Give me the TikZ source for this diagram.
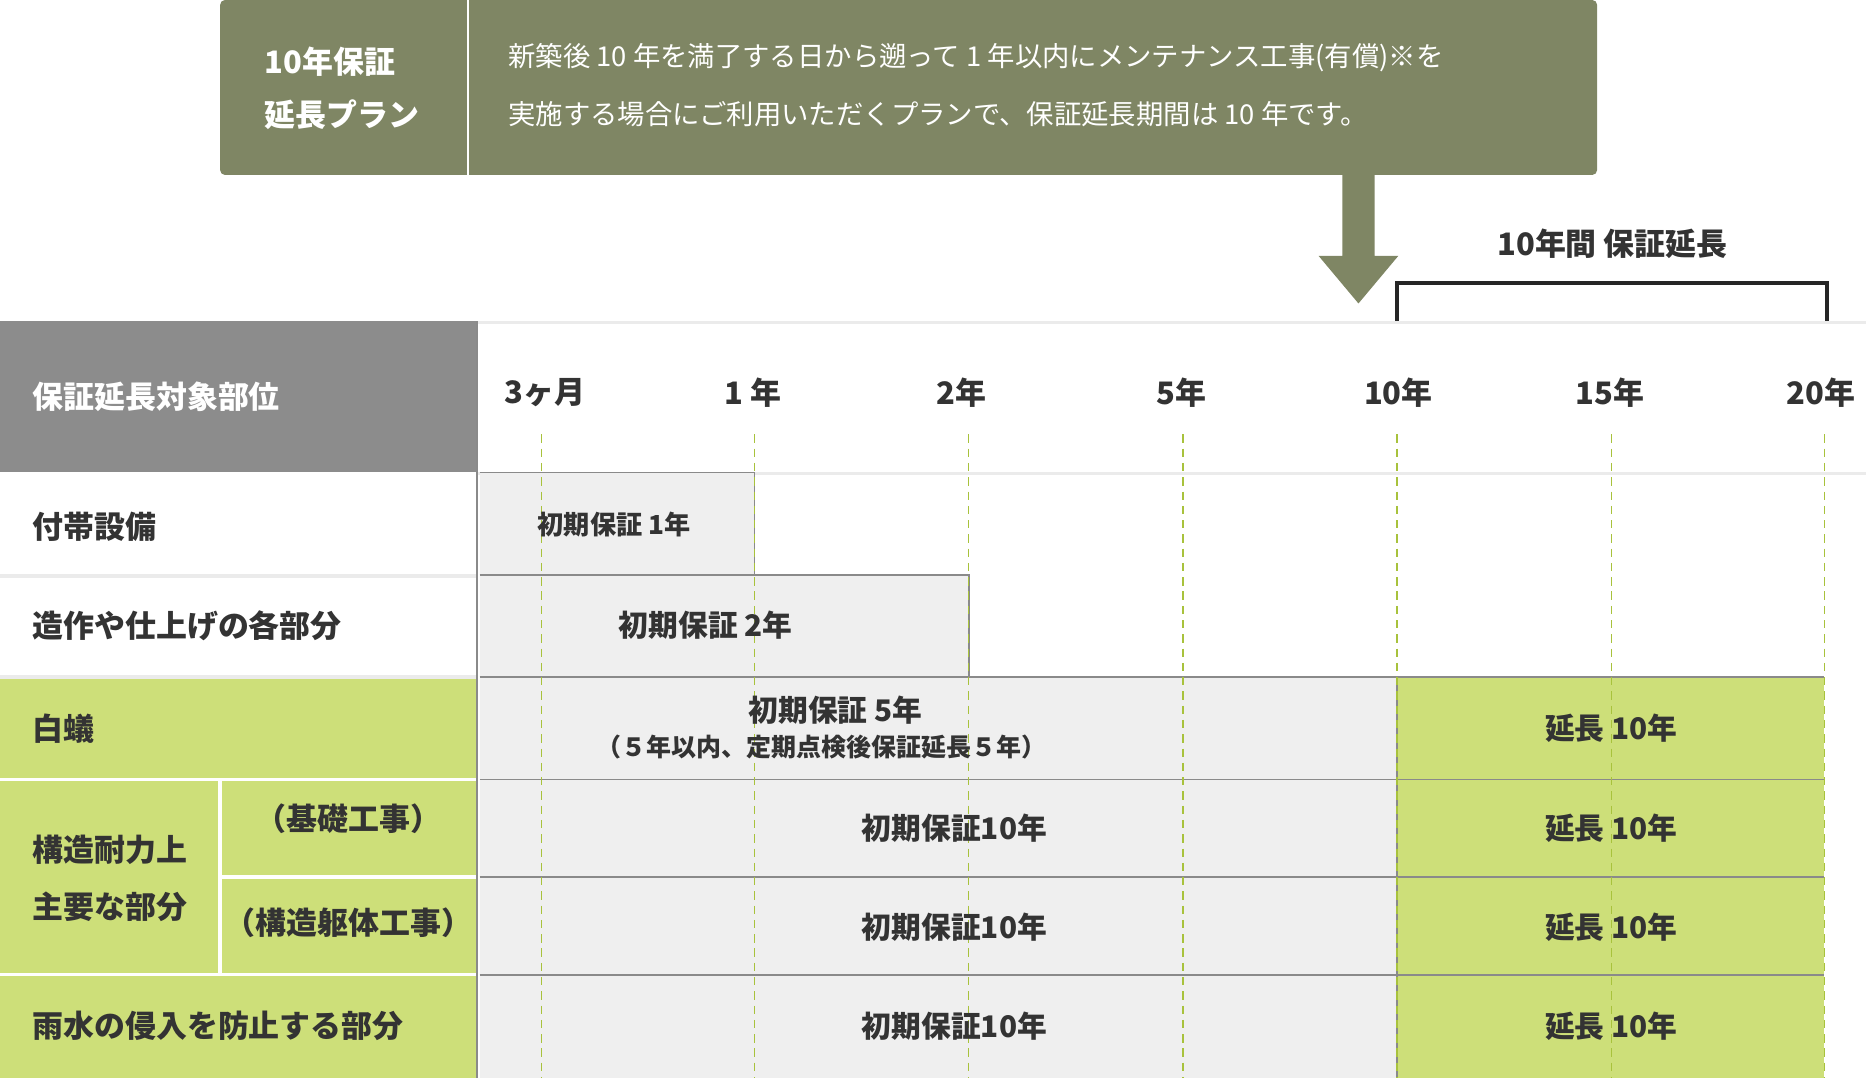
\documentclass[tikz,border=0pt]{standalone}
\usepackage{fontspec}
\setmainfont{Noto Sans CJK JP}
\definecolor{olive}{HTML}{7F8664}
\definecolor{grn}{HTML}{CDDF79}
\definecolor{hdr}{HTML}{8C8C8C}
\definecolor{bar}{HTML}{EFEFEF}
\definecolor{dsh}{HTML}{A8C23C}
\definecolor{lin}{HTML}{8A8A8A}
\definecolor{txt}{HTML}{333333}
\tikzset{
  lbl/.style={font=\fontsize{26}{30}\selectfont\bfseries, text=txt, inner sep=0pt},
  barlbl/.style={font=\fontsize{25}{30}\selectfont\bfseries, text=txt, inner sep=0pt},
  wlbl/.style={font=\fontsize{26}{30}\selectfont\bfseries, text=white, inner sep=0pt, anchor=west},
  desc/.style={font=\fontsize{23}{28}\selectfont, text=white, inner sep=0pt, anchor=west},
  rowline/.style={draw=lin, line width=1.5pt},
  leftline/.style={draw=white, line width=3pt},
}
\begin{document}
\begin{tikzpicture}[x=1pt,y=-1pt]
\useasboundingbox (0,0) rectangle (1568,906);
% top box
\fill[olive, rounded corners=4pt] (185,0) rectangle (1342,147);
\draw[white, line width=1.5pt] (393,0) -- (393,147);
\node[wlbl] (t1) at (222,52) {10年保証};
\node[wlbl] (t2) at (222,96) {延長プラン};
\node[desc] (d1) at (427,48) {新築後 10 年を満了する日から遡って 1 年以内にメンテナンス工事(有償)※を};
\node[desc] (d2) at (427,96) {実施する場合にご利用いただくプランで、保証延長期間は 10 年です。};
% arrow
\fill[olive] (1128,147) -- (1155,147) -- (1155,215) -- (1175,215) -- (1141.5,255) -- (1108,215) -- (1128,215) -- cycle;
% bracket
\node[lbl] (br) at (1355,205) {10年間 保証延長};
\draw[black!85, line width=3.5pt] (1174,270) -- (1174,238) -- (1535,238) -- (1535,270);
% header
\fill[hdr] (0,270) rectangle (401,397);
\node[wlbl] (h) at (27,333) {保証延長対象部位};
\draw[black!8, line width=2pt] (401,271) -- (1568,271);
\draw[black!8, line width=3pt] (401,398) -- (1568,398);
\foreach \x/\t in {458/3ヶ月,633/1 年,808/2年,993/5年,1175/10年,1353/15年,1530/20年}
  \node[lbl] at (\x,330) {\t};
% left cells
\fill[white] (0,397) rectangle (401,569);
\fill[grn] (0,569) rectangle (401,906);
\draw[black!8, line width=3pt] (0,484) -- (401,484);
\draw[black!8, line width=3pt] (0,569) -- (401,569);
\draw[leftline] (0,655) -- (401,655);
\draw[leftline] (0,819) -- (401,819);
\draw[leftline] (185,737) -- (401,737);
\draw[leftline] (185,655) -- (185,819);
\draw[lin, line width=1.5pt] (401,270) -- (401,906);
\node[lbl, anchor=west] at (27,443) {付帯設備};
\node[lbl, anchor=west] at (27,526) {造作や仕上げの各部分};
\node[lbl, anchor=west] at (27,612) {白蟻};
\node[lbl, anchor=west] at (27,714) {構造耐力上};
\node[lbl, anchor=west] at (27,762) {主要な部分};
\node[lbl] at (293,688) {（基礎工事）};
\node[lbl] at (293,775) {（構造躯体工事）};
\node[lbl, anchor=west] at (27,862) {雨水の侵入を防止する部分};
% bars
\fill[bar] (403,397) rectangle (634,483);
\fill[bar] (403,483) rectangle (814,569);
\fill[bar] (403,569) rectangle (1174,906);
\fill[grn] (1174,569) rectangle (1533,906);
\draw[rowline] (403,397) -- (634,397) -- (634,483);
\draw[rowline] (403,483) -- (814,483) -- (814,569);
\draw[rowline] (403,569) -- (1533,569);
\draw[rowline] (403,655) -- (1533,655);
\draw[rowline] (403,737) -- (1533,737);
\draw[rowline] (403,819) -- (1533,819);
\draw[rowline] (1174,569) -- (1174,906);
\foreach \x in {455,634,814,994,1174,1354,1533}
  \draw[dsh, line width=1.3pt, dash pattern=on 7pt off 5pt] (\x,365) -- (\x,906);
\node[barlbl, font=\fontsize{22}{26}\selectfont\bfseries] at (516,441) {初期保証 1年};
\node[barlbl] at (593,525) {初期保証 2年};
\node[barlbl] at (702,597) {初期保証 5年};
\node[barlbl, font=\fontsize{21}{26}\selectfont\bfseries] at (690,628) {（５年以内、定期点検後保証延長５年）};
\foreach \y in {696,779,862} {
  \node[barlbl] at (802,\y) {初期保証10年};
}
\foreach \y in {612,696,779,862} {
  \node[barlbl] at (1354,\y) {延長 10年};
}
\end{tikzpicture}
\end{document}
